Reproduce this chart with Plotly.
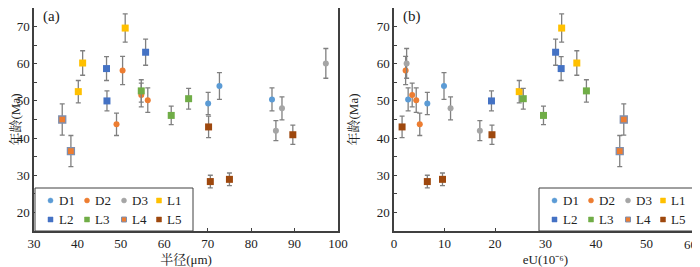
import plotly.graph_objects as go

series_names = ["D1", "D2", "D3", "L1", "L2", "L3", "L4", "L5"]
legend_rows = [["D1", "D2", "D3", "L1"], ["L2", "L3", "L4", "L5"]]

age = {
    "D1": [49.3, 54.0, 50.4],
    "D2": [43.7, 58.2, 51.6, 50.2],
    "D3": [42.0, 48.0, 60.1],
    "L1": [52.5, 60.2, 69.6],
    "L2": [58.7, 50.0, 63.1],
    "L3": [52.7, 46.1, 50.6],
    "L4": [45.0, 36.5],
    "L5": [43.0, 28.3, 28.9, 40.9],
}
age_err = {
    "D1": [3.0, 3.6, 3.1],
    "D2": [3.0, 3.8, 3.2, 3.3],
    "D3": [2.7, 3.1, 4.0],
    "L1": [3.0, 3.3, 3.8],
    "L2": [3.2, 2.7, 3.5],
    "L3": [3.0, 2.5, 2.8],
    "L4": [4.2, 4.2],
    "L5": [2.9, 1.7, 1.7, 2.6],
}
radius = {
    "D1": [70.1, 72.7, 84.8],
    "D2": [49.0, 50.4, 54.7, 56.2],
    "D3": [85.7, 87.1, 97.2],
    "L1": [40.2, 41.2, 51.0],
    "L2": [46.7, 46.8, 55.7],
    "L3": [54.7, 61.6, 65.6],
    "L4": [36.5, 38.5],
    "L5": [70.2, 70.6, 75.0, 89.6],
}
eU = {
    "D1": [6.6, 9.9, 2.8],
    "D2": [5.1, 2.3, 3.6, 4.4],
    "D3": [17.0, 11.2, 2.5],
    "L1": [24.8, 36.2, 33.2],
    "L2": [33.1, 19.3, 32.0],
    "L3": [38.1, 29.6, 25.6],
    "L4": [45.5, 44.7],
    "L5": [1.6, 6.6, 9.6, 19.4],
}

eu_tickvals = [0, 10, 20, 30, 40, 50, 60]
eu_ticktext = ["0", "10", "20", "30", "40", "50", ""]
eu_edge_label = "60"  # drawn nudged left so it stays inside the page, as in the reference

colors = {
    "D1": "#5B9BD5", "D2": "#ED7D31", "D3": "#A5A5A5", "L1": "#FFC000",
    "L2": "#4472C4", "L3": "#70AD47", "L4": "#ED7D31", "L5": "#9E480E",
}
L4_EDGE = "#7F8FAE"

FONT = "Liberation Serif, Noto Serif CJK SC, Noto Sans CJK SC, serif"
AXC = "#404040"
TXT = "#222222"

# The page body has an 8px margin, so the figure is sized to fit the 700x267 window.
W, H = 692, 259
OFF = 8


def fx(px):
    return (px - OFF) / W


def fy(py):
    return 1 - (py - OFF) / H


fig = go.Figure()
for panel, xdata, xa, ya in [("a", radius, "x", "y"), ("b", eU, "x2", "y2")]:
    for name in series_names:
        is_d = name.startswith("D")
        mline = dict(width=1.3, color=L4_EDGE) if name == "L4" else dict(width=0)
        fig.add_trace(go.Scatter(
            x=xdata[name], y=age[name], mode="markers", name=name,
            xaxis=xa, yaxis=ya, showlegend=False,
            marker=dict(symbol=("circle" if is_d else "square"), color=colors[name],
                        size=(6 if is_d else 7), line=mline),
            error_y=dict(type="data", array=age_err[name], color="#808080",
                         thickness=1.3, width=2.5),
        ))

common_y = dict(range=[15, 75], dtick=10, tick0=0, ticks="inside", ticklen=3,
                tickcolor=AXC, showline=True, linecolor=AXC, linewidth=1.5, mirror=True,
                showgrid=False, zeroline=False, automargin=False,
                minor=dict(dtick=5, ticks="inside", ticklen=3, tickcolor=AXC),
                tickfont=dict(family=FONT, size=13, color=TXT),
                title=dict(text="年龄(Ma)", font=dict(family=FONT, size=13, color=TXT)))
common_x = dict(ticks="inside", ticklen=3, tickcolor=AXC, showline=True, linecolor=AXC,
                linewidth=1.5, mirror=True, showgrid=False, zeroline=False, automargin=False,
                ticklabeloverflow="allow",
                tickfont=dict(family=FONT, size=13, color=TXT))

PLOT_TOP, PLOT_BOT = 8, 231

shapes = []
annotations = []
# hand-drawn legends (one per panel), compact like the reference
for box_left in (35, 539):
    box_w, box_top = 158, 188
    shapes.append(dict(type="rect", xref="paper", yref="paper", layer="above",
                       x0=fx(box_left), x1=fx(box_left + box_w), y0=fy(PLOT_BOT), y1=fy(box_top),
                       line=dict(color=AXC, width=1), fillcolor="white"))
    col_off = [15.5, 52, 89, 124]
    row_y = [200.5, 219.5]
    for r, row in enumerate(legend_rows):
        for c, name in enumerate(row):
            cx, cy = box_left + col_off[c], row_y[r]
            s = 2.5
            shapes.append(dict(type=("circle" if name.startswith("D") else "rect"),
                               xref="paper", yref="paper", layer="above",
                               x0=fx(cx - s), x1=fx(cx + s), y0=fy(cy + s), y1=fy(cy - s),
                               fillcolor=colors[name],
                               line=dict(color=(L4_EDGE if name == "L4" else colors[name]),
                                         width=(1 if name == "L4" else 0.5))))
            annotations.append(dict(text=name, xref="paper", yref="paper",
                                    x=fx(cx + 6), y=fy(cy), xanchor="left", yanchor="middle",
                                    showarrow=False,
                                    font=dict(family=FONT, size=13, color=TXT)))

for label, lx in (("(a)", 41), ("(b)", 401)):
    annotations.append(dict(text=label, xref="paper", yref="paper", x=fx(lx), y=fy(16),
                            xanchor="left", yanchor="middle", showarrow=False,
                            font=dict(family=FONT, size=15, color=TXT)))

# edge tick label of panel (b)
annotations.append(dict(text=eu_edge_label, xref="paper", yref="paper", x=fx(699), y=fy(244.5),
                        xanchor="right", yanchor="middle", showarrow=False,
                        font=dict(family=FONT, size=13, color=TXT)))

fig.update_layout(
    width=W, height=H, margin=dict(l=0, r=0, t=0, b=0, autoexpand=False),
    paper_bgcolor="white", plot_bgcolor="white", showlegend=False,
    xaxis=dict(domain=[fx(34), fx(338)], range=[30, 100], dtick=10, anchor="y",
               title=dict(text="半径(μm)", font=dict(family=FONT, size=13, color=TXT)),
               **common_x),
    yaxis=dict(domain=[fy(PLOT_BOT), 1.0], anchor="x", **common_y),
    xaxis2=dict(domain=[fx(394), fx(697)], range=[0, 60], anchor="y2",
                tickmode="array", tickvals=eu_tickvals, ticktext=eu_ticktext,
                title=dict(text="eU(10⁻⁶)", font=dict(family=FONT, size=13, color=TXT)),
                **common_x),
    yaxis2=dict(domain=[fy(PLOT_BOT), 1.0], anchor="x2", **common_y),
    shapes=shapes,
    annotations=annotations,
)

fig.write_html("out.html")
